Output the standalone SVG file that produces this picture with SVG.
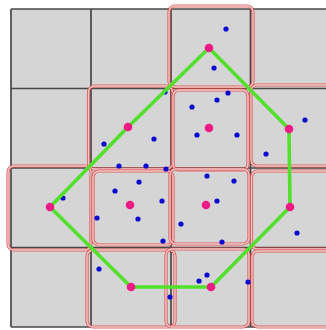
<svg xmlns="http://www.w3.org/2000/svg" width="326" height="330" viewBox="0 0 326 330">
<style>
.cell{fill:#d5d5d5}
.gl{stroke:#484848;stroke-width:1.7;fill:none}
.ro{fill:none;stroke:#e04444;stroke-width:3.2;stroke-opacity:0.85}
.ri{fill:none;stroke:#efcccc;stroke-width:1.4}
.edge{stroke:#52e02c;stroke-width:3.6;stroke-linecap:round}
.node{fill:#ee1a86}
.pt{fill:#0a0ad0}
</style>
<defs>
<rect id="r1" x="169" y="6" width="84" height="81" rx="6"/>
<rect id="r2" x="88.5" y="86" width="84" height="83" rx="6"/>
<rect id="r3" x="173" y="90" width="75" height="80" rx="6"/>
<rect id="r4" x="251" y="85" width="82" height="81" rx="6"/>
<rect id="r5" x="8" y="166" width="83" height="84" rx="6"/>
<rect id="r6" x="93" y="171" width="80" height="74" rx="6"/>
<rect id="r7" x="170" y="169" width="79" height="75" rx="6"/>
<rect id="r8" x="251.5" y="171" width="82" height="78" rx="6"/>
<rect id="r9" x="87" y="250" width="88" height="77" rx="6"/>
<rect id="r10" x="166" y="249" width="83" height="78" rx="6"/>
<rect id="r11" x="252" y="251" width="81" height="76" rx="6"/>
</defs>
<rect x="0" y="0" width="326" height="330" fill="#ffffff"/>
<g id="grid">
<rect class="cell" x="11" y="9" width="320" height="318"/>
<path class="gl" d="M11 9V327M91 9V327M171 9V327M250.5 9V327M11 9H330M11 88.5H330M11 168H330M11 247.5H330M11 327H330"/>
</g>
<g id="highlights">
<use href="#r1" class="ro"/><use href="#r1" class="ri"/>
<use href="#r2" class="ro"/><use href="#r2" class="ri"/>
<use href="#r3" class="ro"/><use href="#r3" class="ri"/>
<use href="#r4" class="ro"/><use href="#r4" class="ri"/>
<use href="#r5" class="ro"/><use href="#r5" class="ri"/>
<use href="#r6" class="ro"/><use href="#r6" class="ri"/>
<use href="#r7" class="ro"/><use href="#r7" class="ri"/>
<use href="#r8" class="ro"/><use href="#r8" class="ri"/>
<use href="#r9" class="ro"/><use href="#r9" class="ri"/>
<use href="#r10" class="ro"/><use href="#r10" class="ri"/>
<use href="#r11" class="ro"/><use href="#r11" class="ri"/>
</g>
<g id="points">
<circle class="pt" cx="226" cy="29" r="2.6"/>
<circle class="pt" cx="214" cy="68" r="2.6"/>
<circle class="pt" cx="228" cy="93" r="2.6"/>
<circle class="pt" cx="217" cy="100" r="2.6"/>
<circle class="pt" cx="192" cy="107" r="2.6"/>
<circle class="pt" cx="197" cy="135" r="2.6"/>
<circle class="pt" cx="237" cy="135" r="2.6"/>
<circle class="pt" cx="305" cy="120" r="2.6"/>
<circle class="pt" cx="266" cy="154" r="2.6"/>
<circle class="pt" cx="165" cy="92" r="2.6"/>
<circle class="pt" cx="104" cy="144" r="2.6"/>
<circle class="pt" cx="154" cy="139" r="2.6"/>
<circle class="pt" cx="119" cy="166" r="2.6"/>
<circle class="pt" cx="146" cy="166" r="2.6"/>
<circle class="pt" cx="166" cy="169" r="2.6"/>
<circle class="pt" cx="63" cy="198" r="2.6"/>
<circle class="pt" cx="139" cy="182" r="2.6"/>
<circle class="pt" cx="115" cy="191" r="2.6"/>
<circle class="pt" cx="162" cy="201" r="2.6"/>
<circle class="pt" cx="97" cy="218" r="2.6"/>
<circle class="pt" cx="138" cy="219" r="2.6"/>
<circle class="pt" cx="163" cy="241" r="2.6"/>
<circle class="pt" cx="99" cy="269" r="2.6"/>
<circle class="pt" cx="170" cy="297" r="2.6"/>
<circle class="pt" cx="207" cy="176" r="2.6"/>
<circle class="pt" cx="234" cy="181" r="2.6"/>
<circle class="pt" cx="217" cy="201" r="2.6"/>
<circle class="pt" cx="181" cy="224" r="2.6"/>
<circle class="pt" cx="222" cy="242" r="2.6"/>
<circle class="pt" cx="297" cy="233" r="2.6"/>
<circle class="pt" cx="207" cy="275" r="2.6"/>
<circle class="pt" cx="199" cy="281" r="2.6"/>
<circle class="pt" cx="248" cy="282" r="2.6"/>
</g>
<g id="connectors">
<line class="edge" x1="209" y1="48" x2="289" y2="129"/>
<line class="edge" x1="289" y1="129" x2="290" y2="207"/>
<line class="edge" x1="290" y1="207" x2="211" y2="287"/>
<line class="edge" x1="211" y1="287" x2="131" y2="287"/>
<line class="edge" x1="131" y1="287" x2="50" y2="207"/>
<line class="edge" x1="50" y1="207" x2="128" y2="127"/>
<line class="edge" x1="128" y1="127" x2="209" y2="48"/>
</g>
<g id="n1"><circle class="node" cx="209" cy="48" r="4.3"/></g>
<g id="n2"><circle class="node" cx="289" cy="129" r="4.3"/></g>
<g id="n3"><circle class="node" cx="290" cy="207" r="4.3"/></g>
<g id="n4"><circle class="node" cx="211" cy="287" r="4.3"/></g>
<g id="n5"><circle class="node" cx="131" cy="287" r="4.3"/></g>
<g id="n6"><circle class="node" cx="50" cy="207" r="4.3"/></g>
<g id="n7"><circle class="node" cx="128" cy="127" r="4.3"/></g>
<g id="n8"><circle class="node" cx="209" cy="128" r="4.3"/></g>
<g id="n9"><circle class="node" cx="130" cy="205" r="4.3"/></g>
<g id="n10"><circle class="node" cx="206" cy="205" r="4.3"/></g>
</svg>
